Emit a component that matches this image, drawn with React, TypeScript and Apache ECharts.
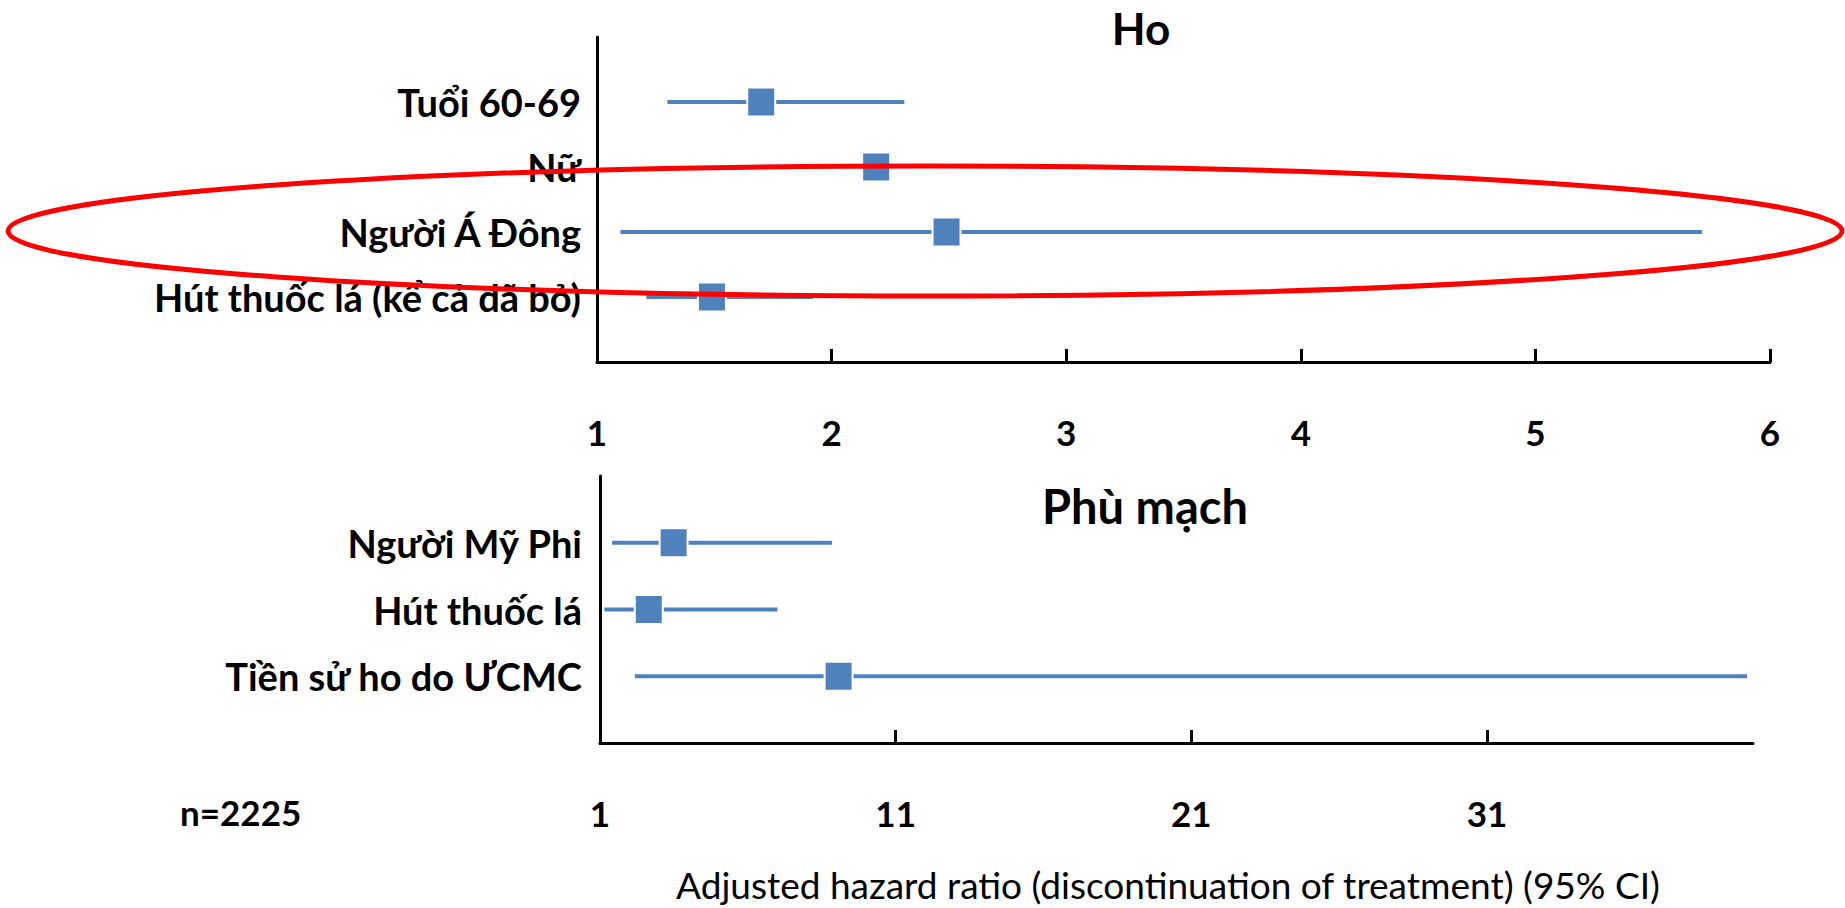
import React, { useEffect, useRef } from "react";
import * as echarts from "echarts";

// ---- data ----
const hoCategories = ["Tuổi 60-69", "Nữ", "Người Á Đông", "Hút thuốc lá (kể cả đã bỏ)"];
const hoEstimate = [1.7, 2.19, 2.49, 1.49];
const hoLower = [1.3, 2.16, 1.1, 1.21];
const hoUpper = [2.31, 2.22, 5.71, 1.92];

const phuCategories = ["Người Mỹ Phi", "Hút thuốc lá", "Tiền sử ho do ƯCMC"];
const phuEstimate = [3.49, 2.65, 9.07];
const phuLower = [1.41, 1.15, 2.18];
const phuUpper = [8.85, 7.0, 39.8];

const hoTickLabels = [1, 2, 3, 4, 5, 6];
const phuTickLabels = [1, 11, 21, 31];

const titleHo = "Ho";
const titlePhu = "Phù mạch";
const sampleNote = "n=2225";
const xAxisTitle = "Adjusted hazard ratio (discontinuation of treatment) (95% CI)";

const BLUE = "#4F81BD";
const FONT = "Lato";

const renderItem = (params: any, api: any) => {
  const row = api.value(3);
  const lo = api.coord([api.value(0), row]);
  const hi = api.coord([api.value(1), row]);
  const est = api.coord([api.value(2), row]);
  return {
    type: "group",
    children: [
      {
        type: "line",
        shape: { x1: lo[0], y1: lo[1], x2: hi[0], y2: hi[1] },
        style: { stroke: BLUE, lineWidth: 4 },
      },
      {
        type: "rect",
        shape: { x: est[0] - 14, y: est[1] - 14.5, width: 28, height: 29 },
        style: { fill: BLUE, stroke: "#ffffff", lineWidth: 2 },
      },
    ],
  };
};

export default function App() {
  const ref = useRef<HTMLDivElement>(null);
  useEffect(() => {
    if (!ref.current) return;
    const chart = echarts.init(ref.current, null, { renderer: "svg" });

    const hoData = hoCategories.map((_, i) => [hoLower[i], hoUpper[i], hoEstimate[i], i + 1]);
    const phuData = phuCategories.map((_, i) => [phuLower[i], phuUpper[i], phuEstimate[i], i + 1]);

    const axisLineStyle = { color: "#000", width: 3 };
    const tickLabelStyle = { fontFamily: FONT, fontWeight: "bold" as const, fontSize: 35, color: "#000" };
    const catLabelStyle = { fontFamily: FONT, fontWeight: "bold" as const, fontSize: 38, color: "#000" };

    chart.setOption({
      animation: false,
      backgroundColor: "#ffffff",
      grid: [
        { left: 597, top: 37, width: 1173, height: 325 },
        { left: 600, top: 476, width: 1153, height: 267 },
      ],
      xAxis: [
        {
          gridIndex: 0,
          type: "value",
          position: "bottom",
          min: 1,
          max: 6,
          interval: 1,
          axisLine: { show: true, onZero: false, lineStyle: axisLineStyle },
          axisTick: { show: true, inside: true, length: 13, lineStyle: axisLineStyle },
          splitLine: { show: false },
          axisLabel: {
            margin: 52,
            ...tickLabelStyle,
            customValues: hoTickLabels,
            formatter: (v: number) => (hoTickLabels.indexOf(v) >= 0 ? String(v) : ""),
          },
        },
        {
          gridIndex: 1,
          type: "value",
          position: "bottom",
          min: 1,
          max: 40,
          interval: 10,
          axisLine: { show: true, onZero: false, lineStyle: axisLineStyle },
          axisTick: {
            show: true,
            inside: true,
            length: 13,
            lineStyle: axisLineStyle,
            customValues: [11, 21, 31],
          },
          splitLine: { show: false },
          axisLabel: {
            margin: 52,
            ...tickLabelStyle,
            customValues: phuTickLabels,
            formatter: (v: number) => (phuTickLabels.indexOf(v) >= 0 ? String(v) : ""),
          },
        },
      ],
      yAxis: [
        {
          gridIndex: 0,
          type: "value",
          min: 0,
          max: hoCategories.length + 1,
          interval: 1,
          inverse: true,
          axisLine: { show: true, onZero: false, lineStyle: axisLineStyle },
          axisTick: { show: false },
          splitLine: { show: false },
          axisLabel: {
            margin: 16,
            ...catLabelStyle,
            formatter: (v: number) => hoCategories[v - 1] || "",
          },
        },
        {
          gridIndex: 1,
          type: "value",
          min: 0,
          max: phuCategories.length + 1,
          interval: 1,
          inverse: true,
          axisLine: { show: true, onZero: false, lineStyle: axisLineStyle },
          axisTick: { show: false },
          splitLine: { show: false },
          axisLabel: {
            margin: 18,
            ...catLabelStyle,
            formatter: (v: number) => phuCategories[v - 1] || "",
          },
        },
      ],
      series: [
        {
          type: "custom",
          xAxisIndex: 0,
          yAxisIndex: 0,
          clip: false,
          renderItem,
          data: hoData,
        },
        {
          type: "custom",
          xAxisIndex: 1,
          yAxisIndex: 1,
          clip: false,
          renderItem,
          data: phuData,
        },
      ],
      graphic: [
        {
          type: "text",
          x: 1141,
          y: 28,
          style: {
            text: titleHo,
            fontFamily: FONT,
            fontWeight: "bold",
            fontSize: 44,
            fill: "#000",
            align: "center",
            verticalAlign: "middle",
          },
        },
        {
          type: "text",
          x: 1145,
          y: 506,
          style: {
            text: titlePhu,
            fontFamily: FONT,
            fontWeight: "bold",
            fontSize: 47,
            fill: "#000",
            align: "center",
            verticalAlign: "middle",
          },
        },
        {
          type: "text",
          x: 180,
          y: 812,
          style: {
            text: sampleNote,
            fontFamily: FONT,
            fontWeight: "bold",
            fontSize: 35,
            fill: "#000",
            align: "left",
            verticalAlign: "middle",
          },
        },
        {
          type: "text",
          x: 1168,
          y: 884,
          style: {
            text: xAxisTitle,
            fontFamily: FONT,
            fontWeight: "normal",
            fontSize: 37,
            fill: "#000",
            align: "center",
            verticalAlign: "middle",
          },
        },
        {
          type: "ellipse",
          z: 100,
          shape: { cx: 925, cy: 231, rx: 917, ry: 65 },
          style: { fill: "none", stroke: "#FF0000", lineWidth: 5 },
        },
      ],
    });

    return () => chart.dispose();
  }, []);

  return (
    <div
      ref={ref}
      style={{ position: "fixed", left: 0, top: 0, width: 1845, height: 908, background: "#fff" }}
    />
  );
}
